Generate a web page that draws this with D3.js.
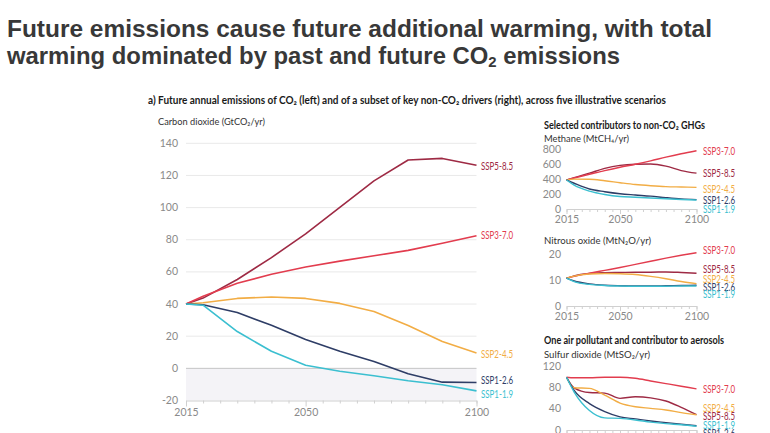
<!DOCTYPE html>
<html><head><meta charset="utf-8">
<script src="https://cdn.jsdelivr.net/npm/d3@7"></script>
<style>
html,body{margin:0;padding:0;background:#fff;}
svg{display:block;}
</style></head>
<body>
<svg id="c" width="770" height="433"></svg>
<script>
const years = [2015,2020,2030,2040,2050,2060,2070,2080,2090,2100];
const scenarios = ["SSP5-8.5","SSP3-7.0","SSP2-4.5","SSP1-2.6","SSP1-1.9"];
const colors = {"SSP5-8.5":"#9e2a44","SSP3-7.0":"#e23c4e","SSP2-4.5":"#f2ad45","SSP1-2.6":"#2e3d66","SSP1-1.9":"#3bbfd0"};

// CO2 (GtCO2/yr)
const co2 = {
  "SSP5-8.5":[40,43.7,55.3,68.9,83.7,100.2,116.6,129.6,130.6,126.3],
  "SSP3-7.0":[40,44.8,53.0,58.5,63.0,66.7,70.0,73.4,77.8,82.5],
  "SSP2-4.5":[40,40.8,43.5,44.4,43.5,40.4,35.4,26.7,16.7,9.6],
  "SSP1-2.6":[40,39.6,34.7,26.8,18.0,10.6,4.3,-3.4,-8.6,-8.8],
  "SSP1-1.9":[40,39.3,22.9,10.6,1.9,-1.8,-4.6,-7.7,-10.2,-14.0]
};
// Methane (MtCH4/yr)
const ch4 = {
  "SSP5-8.5":[389,420,480,545,585,600,603,575,515,480],
  "SSP3-7.0":[389,415,465,515,560,600,645,695,740,780],
  "SSP2-4.5":[389,400,398,378,352,328,312,300,295,290],
  "SSP1-2.6":[389,345,268,232,205,188,172,152,135,125],
  "SSP1-1.9":[389,320,240,195,168,158,148,138,128,120]
};
// Nitrous oxide (MtN2O/yr)
const n2o = {
  "SSP5-8.5":[10.7,11.6,12.5,12.8,12.9,13.0,13.0,13.1,12.9,12.6],
  "SSP3-7.0":[10.7,11.4,12.6,13.7,14.8,16.0,17.2,18.4,19.5,20.5],
  "SSP2-4.5":[10.7,11.5,12.3,12.5,12.4,12.1,11.4,10.5,9.4,8.6],
  "SSP1-2.6":[10.7,9.6,8.5,8.0,7.8,7.7,7.7,7.8,7.9,8.0],
  "SSP1-1.9":[10.7,9.4,8.3,7.9,7.7,7.6,7.6,7.6,7.7,7.7]
};
// Sulfur dioxide (MtSO2/yr)
const so2 = {
  "SSP5-8.5":[100,80,71,70,60,63,61,55,43,29],
  "SSP3-7.0":[100,99,99,100,100,98,93,88,83,78],
  "SSP2-4.5":[100,80,79,66,51,44,41,38,33,29],
  "SSP1-2.6":[100,75,50,35,25,21,17,14,11,8],
  "SSP1-1.9":[100,72,37,23,22,19,15,12,10,7]
};
const co2Ticks = [-20,0,20,40,60,80,100,120,140];
const ch4Ticks = [0,200,400,600,800];
const n2oTicks = [0,10,20];
const so2Ticks = [0,40,80,120];
const yearTicks = [2015,2050,2100];

const svg = d3.select("#c");
const FONT = "Lato, 'Open Sans', sans-serif";

// Title
const title = svg.append("g").attr("font-family","'Liberation Sans', Arial, sans-serif").attr("font-weight","bold").attr("fill","#383838").attr("font-size",24);
title.append("text").attr("x",7).attr("y",37).attr("textLength",705).attr("lengthAdjust","spacingAndGlyphs")
  .text("Future emissions cause future additional warming, with total");
const t2 = title.append("text").attr("x",7).attr("y",64).attr("textLength",613).attr("lengthAdjust","spacingAndGlyphs");
t2.append("tspan").text("warming dominated by past and future CO");
t2.append("tspan").attr("font-size",15).attr("baseline-shift","-22%").text("2");
t2.append("tspan").text(" emissions");

function label(g, x, y, str, opts){
  const t = g.append("text").attr("x",x).attr("y",y).attr("font-family",FONT)
    .attr("font-size",opts.size).attr("fill",opts.fill||"#222").attr("font-weight",opts.weight||"normal").text(str);
  if(opts.len) t.attr("textLength",opts.len).attr("lengthAdjust","spacingAndGlyphs");
  return t;
}

// Subtitle
label(svg,148,104,"a) Future annual emissions of CO₂ (left) and of a subset of key non-CO₂ drivers (right), across five illustrative scenarios",{size:10.5,weight:"bold",len:518,fill:"#1a1a1a"});
label(svg,158,125,"Carbon dioxide (GtCO₂/yr)",{size:10,len:107,fill:"#333"});

// Main CO2 chart
const x = d3.scaleLinear().domain([2015,2100]).range([186,476.5]);
const y = d3.scaleLinear().domain([-20,140]).range([400.5,143.3]);
const main = svg.append("g");
main.append("rect").attr("x",x(2015)).attr("y",y(0)).attr("width",x(2100)-x(2015)).attr("height",y(-20)-y(0)).attr("fill","#f4f3f7");
main.selectAll("line.grid").data(co2Ticks.filter(d=>d>0)).join("line").attr("class","grid")
  .attr("x1",x(2015)).attr("x2",x(2100)).attr("y1",d=>y(d)).attr("y2",d=>y(d)).attr("stroke","#e9e9e9").attr("stroke-width",1);
main.append("line").attr("x1",x(2015)).attr("x2",x(2100)).attr("y1",y(0)).attr("y2",y(0)).attr("stroke","#c4c4c4").attr("stroke-width",1);
main.selectAll("text.yt").data(co2Ticks).join("text").attr("class","yt")
  .attr("x",178).attr("y",d=>y(d)+3.5).attr("text-anchor","end").attr("font-family",FONT).attr("font-size",10.5).attr("fill","#8a8a8a").text(d=>d);
const xAxis = d3.axisBottom(x).tickValues(d3.range(2015,2101,5)).tickSize(3).tickFormat(d=>yearTicks.includes(d)?d:"");
const xa = main.append("g").attr("transform",`translate(0,${y(-20)})`).call(xAxis);
xa.select(".domain").attr("stroke","#d0d0d0");
xa.selectAll(".tick line").attr("stroke","#d0d0d0").attr("y2",d=>yearTicks.includes(d)?6:3);
xa.selectAll(".tick text").attr("font-family",FONT).attr("font-size",10.5).attr("fill","#8a8a8a").attr("dy","0.9em");

const line = d3.line().x((d,i)=>x(years[i])).y(d=>y(d));
main.selectAll("path.s").data(scenarios).join("path").attr("class","s")
  .attr("d",s=>line(co2[s])).attr("fill","none").attr("stroke",s=>colors[s]).attr("stroke-width",1.6).attr("stroke-linejoin","round");
const co2LabelY = {"SSP5-8.5":166,"SSP3-7.0":235,"SSP2-4.5":354,"SSP1-2.6":380,"SSP1-1.9":394};
main.selectAll("text.lab").data(scenarios).join("text").attr("class","lab")
  .attr("x",481).attr("y",s=>co2LabelY[s]+4).attr("font-family",FONT).attr("font-size",11.5)
  .attr("textLength",32).attr("lengthAdjust","spacingAndGlyphs").attr("fill",s=>colors[s]).text(s=>s);

// Small panels
function panel(cfg){
  const g = svg.append("g");
  const xs = d3.scaleLinear().domain([2015,2100]).range([566.5,696.5]);
  const ys = d3.scaleLinear().domain([0,cfg.max]).range([cfg.y0,cfg.yTop]);
  g.selectAll("text.yt").data(cfg.ticks).join("text").attr("x",561).attr("y",d=>ys(d)+3.5)
    .attr("text-anchor","end").attr("font-family",FONT).attr("font-size",10.5).attr("fill","#8a8a8a").text(d=>d);
  const ax = d3.axisBottom(xs).tickValues(d3.range(2015,2101,5)).tickSize(3).tickFormat(d=>yearTicks.includes(d)?d:"");
  const a = g.append("g").attr("transform",`translate(0,${cfg.y0})`).call(ax);
  a.select(".domain").attr("stroke","#d0d0d0");
  a.selectAll(".tick line").attr("stroke","#d0d0d0").attr("y2",d=>yearTicks.includes(d)?5:3);
  a.selectAll(".tick text").attr("font-family",FONT).attr("font-size",10.5).attr("fill","#8a8a8a").attr("dy","0.75em");
  const ln = d3.line().x((d,i)=>xs(years[i])).y(d=>ys(d)).curve(d3.curveMonotoneX);
  g.selectAll("path.s").data(scenarios).join("path").attr("d",s=>ln(cfg.data[s])).attr("fill","none")
    .attr("stroke",s=>colors[s]).attr("stroke-width",1.4);
  g.selectAll("text.lab").data(scenarios).join("text").attr("x",703).attr("y",s=>cfg.labelY[s]+3.5)
    .attr("font-family",FONT).attr("font-size",11).attr("textLength",32).attr("lengthAdjust","spacingAndGlyphs")
    .attr("fill",s=>colors[s]).text(s=>s);
}

label(svg,544,129,"Selected contributors to non-CO₂ GHGs",{size:10.5,weight:"bold",len:161,fill:"#1a1a1a"});
label(svg,544,142,"Methane (MtCH₄/yr)",{size:10,len:85,fill:"#333"});
panel({data:ch4,max:800,ticks:ch4Ticks,y0:209,yTop:149.3,
  labelY:{"SSP3-7.0":151,"SSP5-8.5":173,"SSP2-4.5":189.7,"SSP1-2.6":200.7,"SSP1-1.9":209.5}});

label(svg,544,244,"Nitrous oxide (MtN₂O/yr)",{size:10,len:107,fill:"#333"});
panel({data:n2o,max:20,ticks:n2oTicks,y0:306,yTop:254,
  labelY:{"SSP3-7.0":250,"SSP5-8.5":269.3,"SSP2-4.5":279.3,"SSP1-2.6":287.3,"SSP1-1.9":294.5}});

label(svg,544,344,"One air pollutant and contributor to aerosols",{size:10.5,weight:"bold",len:180,fill:"#1a1a1a"});
label(svg,544,357.5,"Sulfur dioxide (MtSO₂/yr)",{size:10,len:106,fill:"#333"});
panel({data:so2,max:120,ticks:so2Ticks,y0:430,yTop:366.7,
  labelY:{"SSP3-7.0":389,"SSP2-4.5":408.3,"SSP5-8.5":416.7,"SSP1-1.9":425.3,"SSP1-2.6":433}});
</script>
</body></html>
